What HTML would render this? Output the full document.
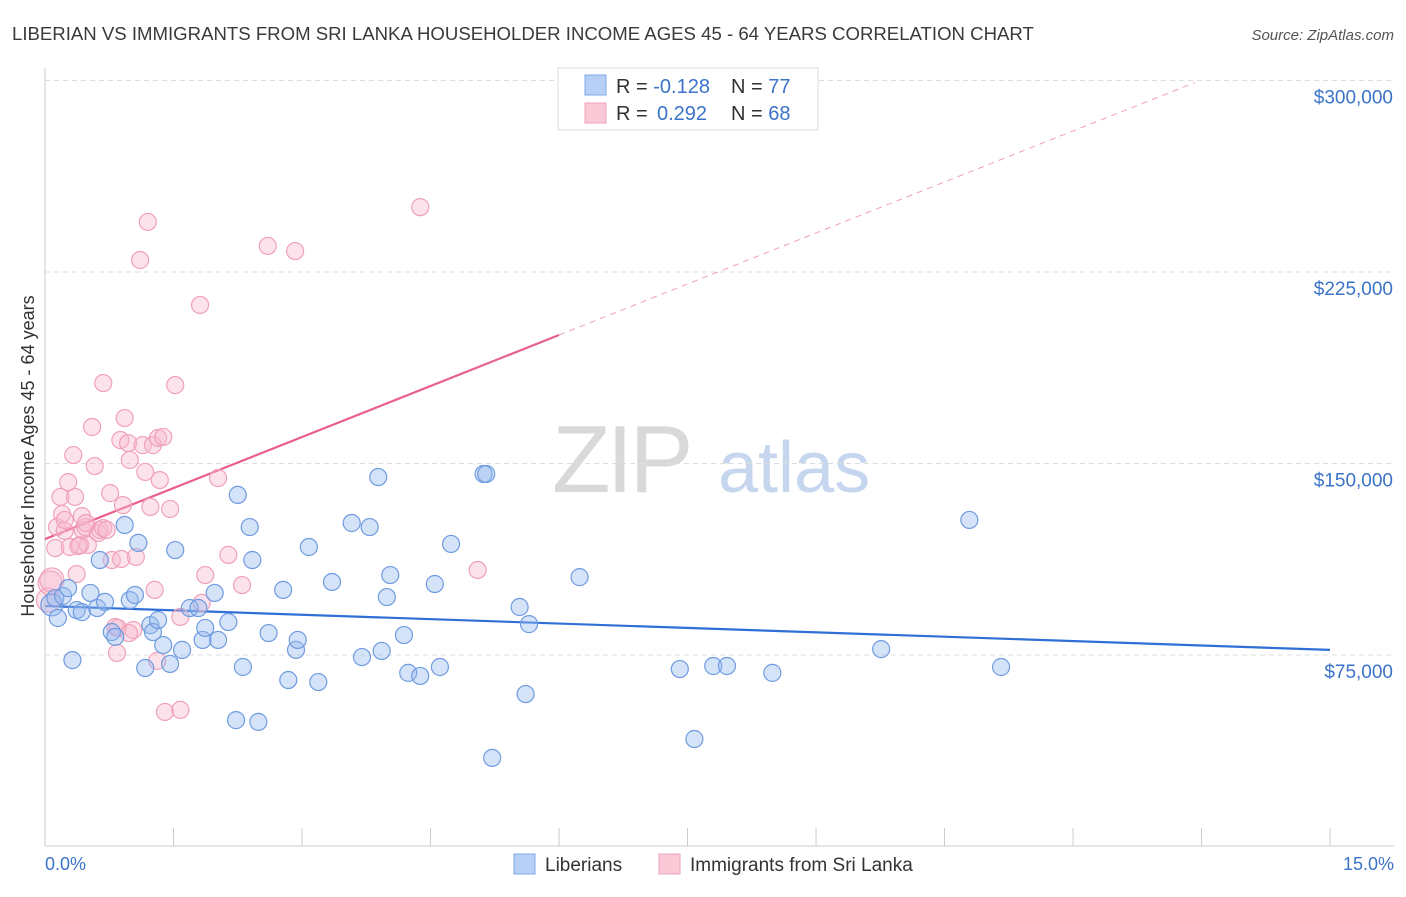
<!DOCTYPE html>
<html><head><meta charset="utf-8"><style>
body{margin:0;background:#fff;font-family:"Liberation Sans",sans-serif;}
svg text{font-family:"Liberation Sans",sans-serif;}
</style></head><body>
<svg id="chart" width="1406" height="892" viewBox="0 0 1406 892" xmlns="http://www.w3.org/2000/svg">
<text x="12" y="40" font-size="18.6" fill="#3a3a3a">LIBERIAN VS IMMIGRANTS FROM SRI LANKA HOUSEHOLDER INCOME AGES 45 - 64 YEARS CORRELATION CHART</text>
<text x="1394" y="40" font-size="15" fill="#555" font-style="italic" text-anchor="end">Source: ZipAtlas.com</text>
<g>
<text x="552" y="492" font-size="96" fill="#d9d9d9" font-family="Liberation Serif" letter-spacing="-4">ZIP</text>
<text x="718" y="492" font-size="72" fill="#c5d6ee">atlas</text>
</g>
<g id="grid"></g>
<g id="axes"></g>
<g id="lines"></g>
<g id="pts"></g>
<text transform="translate(34,456) rotate(-90)" font-size="18" fill="#333" text-anchor="middle">Householder Income Ages 45 - 64 years</text>
<text x="45" y="870" font-size="18" fill="#3b73c8">0.0%</text>
<text x="1394" y="870" font-size="18" fill="#3b73c8" text-anchor="end">15.0%</text>
<g>
<rect x="558" y="68" width="260" height="62" fill="#fff" stroke="#ddd"/>
<rect x="585" y="75" width="21" height="20" fill="#b5cff5" stroke="#7fa8e8"/>
<rect x="585" y="103" width="21" height="20" fill="#f9c9d7" stroke="#f0a3bb"/>
<text x="616" y="93" font-size="20" fill="#333">R = <tspan fill="#3b73c8">-0.128</tspan><tspan x="731">N = </tspan><tspan fill="#3b73c8">77</tspan></text>
<text x="616" y="120" font-size="20" fill="#333">R = <tspan x="657" fill="#3b73c8">0.292</tspan><tspan x="731">N = </tspan><tspan fill="#3b73c8">68</tspan></text>
</g>
<g>
<rect x="514" y="854" width="21" height="20" fill="#b5cff5" stroke="#7fa8e8"/>
<text x="545" y="871" font-size="19" fill="#333">Liberians</text>
<rect x="659" y="854" width="21" height="20" fill="#f9c9d7" stroke="#f0a3bb"/>
<text x="690" y="871" font-size="19" fill="#333">Immigrants from Sri Lanka</text>
</g>
</svg>
<script>
const yTicks=[75000,150000,225000,300000];
const yTickLabels=["$75,000","$150,000","$225,000","$300,000"];
const xTicks=[0,1.5,3,4.5,6,7.5,9,10.5,12,13.5,15];
const blueX=[0.08,0.12,0.15,0.21,0.27,0.32,0.37,0.43,0.53,0.61,0.64,0.70,0.78,0.82,0.93,0.99,1.05,1.09,1.17,1.23,1.26,1.32,1.38,1.46,1.52,1.60,1.69,1.79,1.84,1.87,1.98,2.02,2.14,2.23,2.25,2.31,2.39,2.42,2.49,2.61,2.78,2.84,2.93,2.95,3.08,3.19,3.35,3.58,3.70,3.79,3.89,3.93,3.99,4.03,4.19,4.24,4.38,4.55,4.61,4.74,5.12,5.15,5.22,5.54,5.61,5.65,6.24,7.41,7.58,7.80,7.96,8.49,9.76,10.79,11.16];
const blueY=[94.6,97.3,89.5,98.1,101.2,73.0,92.6,91.8,99.3,93.4,112.2,95.8,84.0,82.1,125.9,96.5,98.5,118.9,69.9,86.7,84.0,88.7,78.9,71.5,116.1,77.0,93.4,93.4,80.9,85.6,99.3,80.9,87.9,49.5,137.7,70.3,125.1,112.2,48.8,83.6,100.5,65.2,77.0,80.9,117.3,64.4,103.6,126.7,74.2,125.1,144.7,76.6,97.7,106.3,82.8,68.0,66.8,102.8,70.3,118.5,145.9,145.9,34.7,93.8,59.7,87.1,105.5,69.5,42.1,70.7,70.7,68.0,77.3,127.9,70.3];
const pinkX=[0.04,0.06,0.08,0.12,0.14,0.18,0.20,0.23,0.27,0.29,0.33,0.35,0.37,0.41,0.44,0.47,0.50,0.55,0.58,0.62,0.64,0.68,0.72,0.76,0.78,0.82,0.85,0.88,0.91,0.93,0.97,0.99,1.03,1.06,1.11,1.14,1.17,1.20,1.23,1.26,1.28,1.32,1.34,1.38,1.40,1.46,1.52,1.58,1.58,1.81,1.83,1.87,2.02,2.14,2.30,2.60,2.92,4.38,5.05,0.68,0.43,0.48,0.23,0.39,0.89,1.31,0.84,0.98];
const pinkY=[96.5,103.2,104.4,116.9,125.1,136.9,130.2,123.6,142.7,117.3,153.3,136.9,106.7,118.1,124.0,125.1,118.1,164.3,149.0,122.8,124.0,124.7,124.0,138.4,112.2,86.0,85.6,159.2,133.7,167.8,158.0,151.4,84.8,113.4,229.7,157.2,146.7,244.6,133.0,157.2,100.5,160.0,143.5,160.4,52.7,132.2,180.7,53.5,89.9,212.1,95.4,106.3,144.3,114.2,102.4,235.2,233.2,250.4,108.3,181.5,129.4,126.7,127.9,117.7,112.6,72.7,75.8,83.6];
const blueTrend=[94.2,77.0];
const pinkTrend=[120.4,13.32];
const NS="http://www.w3.org/2000/svg";
const X=p=>45+p*85.67;
const Y=v=>655-(v-75000)*191.5/75000;
function mk(tag,attrs,parent){const e=document.createElementNS(NS,tag);for(const k in attrs)e.setAttribute(k,attrs[k]);parent.appendChild(e);return e;}
const grid=document.getElementById('grid'),axes=document.getElementById('axes'),lines=document.getElementById('lines'),pts=document.getElementById('pts');
yTicks.forEach((t,i)=>{
 const l=mk('line',{x1:45,x2:1394,y1:Y(t),y2:Y(t),stroke:'#ddd','stroke-dasharray':'5,4'},grid);
 
 
 const tx=mk('text',{x:1393,y:Y(t)+23,'font-size':19,fill:'#3b73c8','text-anchor':'end'},axes);
 tx.textContent=yTickLabels[i];
 
 
});
const yAxis=mk('line',{x1:45,x2:45,y1:68,y2:846,stroke:'#ccc'},axes);


const xAxis=mk('line',{x1:45,x2:1394,y1:846,y2:846,stroke:'#ccc'},axes);


xTicks.forEach(t=>{
 const l=mk('line',{x1:X(t),x2:X(t),y1:828,y2:846,stroke:'#ccc'},axes);
 
 
});
function dot(px,pv,fill,stroke,name,r){
 const c=mk('circle',{cx:X(px),cy:Y(pv*1000),r:r,fill:fill,stroke:stroke,'stroke-width':1.2},pts);
 
 
}
pinkX.forEach((p,i)=>dot(p,pinkY[i],'rgba(248,185,205,0.4)','#f0a0b9','point-sri-lanka',p<0.1?12:8.5));
blueX.forEach((p,i)=>dot(p,blueY[i],'rgba(150,185,240,0.4)','#6f9be0','point-liberian',p<0.1?11:8.5));
const bl=mk('line',{x1:X(0),y1:Y(blueTrend[0]*1000),x2:X(15),y2:Y(blueTrend[1]*1000),stroke:'#2f6fd6','stroke-width':2.2},lines);


const pv=p=>(pinkTrend[0]+pinkTrend[1]*p)*1000;
const pl=mk('line',{x1:X(0),y1:Y(pv(0)),x2:X(6),y2:Y(pv(6)),stroke:'#e8608a','stroke-width':2.2},lines);


const pd=mk('line',{x1:X(6),y1:Y(pv(6)),x2:X(13.42),y2:Y(pv(13.42)),stroke:'#f0a0b9','stroke-width':1,'stroke-dasharray':'6,5'},lines);


</script>
</body></html>
